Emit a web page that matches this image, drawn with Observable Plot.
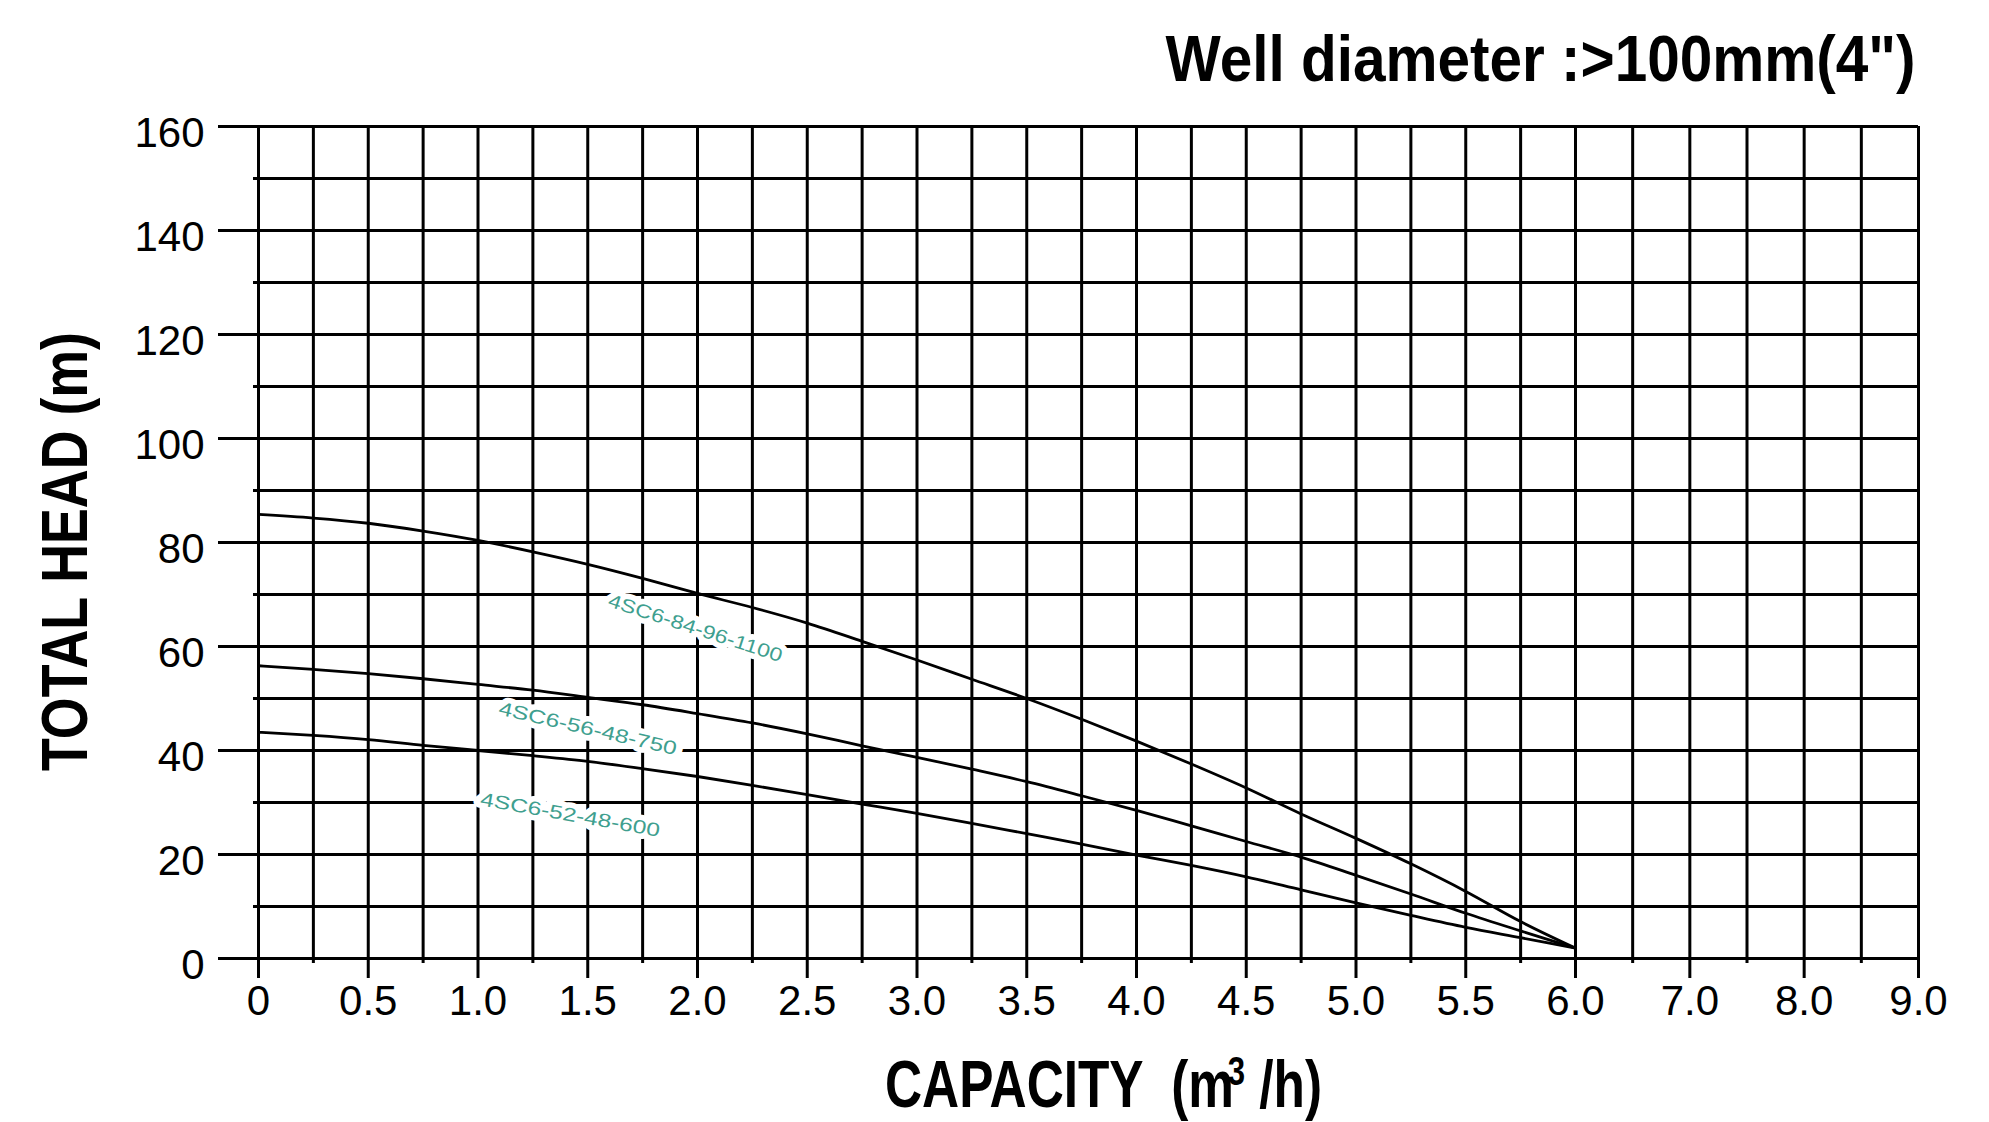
<!DOCTYPE html>
<html>
<head>
<meta charset="utf-8">
<script src="https://cdn.jsdelivr.net/npm/d3@7"></script>
<script src="https://cdn.jsdelivr.net/npm/@observablehq/plot@0.6"></script>
<style>
html, body { margin: 0; padding: 0; background: #fff; overflow: hidden; }
#chart svg { display: block; }
</style>
</head>
<body>
<div id="chart"></div>
<script>
// ---- data ----
const capacity = [0, 0.25, 0.5, 0.75, 1, 1.25, 1.5, 1.75, 2, 2.25, 2.5, 2.75, 3, 3.25, 3.5, 3.75, 4, 4.25, 4.5, 4.75, 5, 5.25, 5.5, 5.75, 6];
const head1100 = [85.4, 84.7, 83.7, 82.2, 80.4, 78.2, 75.8, 73.1, 70.2, 67.5, 64.5, 61.0, 57.4, 53.7, 50.0, 46.0, 41.8, 37.4, 32.8, 27.8, 23.1, 18.2, 12.9, 7.1, 2.0];
const head750  = [56.3, 55.6, 54.8, 53.8, 52.7, 51.6, 50.2, 48.8, 47.1, 45.3, 43.2, 40.9, 38.7, 36.4, 34.0, 31.3, 28.5, 25.5, 22.5, 19.5, 16.0, 12.4, 8.7, 5.3, 2.0];
const head600  = [43.5, 42.9, 42.1, 41.0, 40.0, 39.0, 37.9, 36.5, 35.0, 33.3, 31.5, 29.7, 27.9, 26.0, 24.0, 22.0, 19.9, 17.9, 15.7, 13.2, 10.7, 8.3, 6.0, 4.0, 2.0];
const seriesNames = ["4SC6-84-96-1100", "4SC6-56-48-750", "4SC6-52-48-600"];
const labelCapacity = [1.99, 1.50, 1.42];
const labelHead = [63.5, 44.2, 27.6];

const xTicks = [0, 0.5, 1, 1.5, 2, 2.5, 3, 3.5, 4, 4.5, 5, 5.5, 6, 7, 8, 9];
const xMinor = [0.25, 0.75, 1.25, 1.75, 2.25, 2.75, 3.25, 3.75, 4.25, 4.75, 5.25, 5.75, 6.5, 7.5, 8.5];
const yTicks = [0, 20, 40, 60, 80, 100, 120, 140, 160];
const yMinor = [10, 30, 50, 70, 90, 110, 130, 150];

const titleText = "Well diameter :>100mm(4\")";
const xTitle = "CAPACITY (m³ /h)";
const yTitle = "TOTAL HEAD (m)";

// ---- build tables ----
const heads = [head1100, head750, head600];
const rows = [];
heads.forEach((h, s) => capacity.forEach((c, i) => rows.push({series: seriesNames[s], capacity: c, head: h[i]})));
const labels = seriesNames.map((n, i) => ({name: n, capacity: labelCapacity[i], head: labelHead[i]}));
const labelRotate = {"4SC6-84-96-1100": 18, "4SC6-56-48-750": 13, "4SC6-52-48-600": 10};

const W = 1989, H = 1122;
const mL = 258, mR = 71, mT = 126, mB = 164;
const fmtX = d => d === 0 ? "0" : d.toFixed(1);
const gridStyle = {stroke: "#000", strokeWidth: 3};

const svg = Plot.plot({
  width: W,
  height: H,
  marginLeft: mL,
  marginRight: mR,
  marginTop: mT,
  marginBottom: mB,
  style: {fontFamily: "'Liberation Sans', Arial, Helvetica, sans-serif", background: "#fff", color: "#000"},
  x: {type: "linear", domain: [0, 6, 9], range: [mL, 1575, W - mR], label: null},
  y: {type: "linear", domain: [0, 160], label: null},
  marks: [
    Plot.ruleY(yMinor, {...gridStyle, insetLeft: -5}),
    Plot.ruleY(yTicks, {...gridStyle, insetLeft: -40}),
    Plot.ruleX(xMinor, {...gridStyle, insetBottom: -5}),
    Plot.ruleX(xTicks, {...gridStyle, insetBottom: -20}),
    Plot.line(rows, {x: "capacity", y: "head", z: "series", stroke: "#000", strokeWidth: 2.8, curve: "monotone-x"}),
    Plot.text(labels, {
      x: "capacity", y: "head", text: "name",
      rotate: d => labelRotate[d.name],
      fill: "#3f9f8f", stroke: "#fff", strokeWidth: 11, paintOrder: "stroke",
      fontSize: 19, textAnchor: "middle", lineAnchor: "middle",
      className: "curve-label"
    }),
    Plot.axisX({ticks: xTicks, tickFormat: fmtX, tickSize: 0, tickPadding: 27, fontSize: 42, label: null}),
    Plot.axisY({ticks: yTicks, tickSize: 0, tickPadding: 54, fontSize: 42, dy: 7, label: null}),
    Plot.text([titleText], {text: d => d, frameAnchor: "top-right", textAnchor: "end", lineAnchor: "bottom",
      dx: -3, dy: -46, fontSize: 65, fontWeight: "bold", fill: "#000", className: "main-title"}),
    Plot.text([xTitle], {text: d => d, frameAnchor: "bottom", textAnchor: "middle", lineAnchor: "bottom",
      dx: 15, dy: 148, fontSize: 66, fontWeight: "bold", fill: "#000", className: "x-title"}),
    Plot.text([yTitle], {text: d => d, frameAnchor: "left", rotate: -90, textAnchor: "middle", lineAnchor: "bottom",
      dx: -172, dy: 9, fontSize: 64, fontWeight: "bold", fill: "#000", className: "y-title"})
  ]
});

document.getElementById("chart").append(svg);

const s = d3.select(svg);
s.selectAll("g.main-title text").attr("textLength", 750).attr("lengthAdjust", "spacingAndGlyphs");
s.selectAll("g.y-title text").attr("textLength", 439).attr("lengthAdjust", "spacingAndGlyphs");
s.selectAll("g.curve-label text").attr("textLength", 182).attr("lengthAdjust", "spacingAndGlyphs");
// x title with a raised "3"
s.selectAll("g.x-title text").each(function () {
  const t = d3.select(this);
  const full = t.text();
  const parts = full.split("³");
  t.text(null);
  t.append("tspan").text(parts[0].replace("(", " ("));
  t.append("tspan").attr("dy", -22).attr("dx", -8).attr("font-size", 40).text("3");
  t.append("tspan").attr("dy", 22).text(parts[1]);
  t.attr("textLength", 437).attr("lengthAdjust", "spacingAndGlyphs");
});
</script>
</body>
</html>
